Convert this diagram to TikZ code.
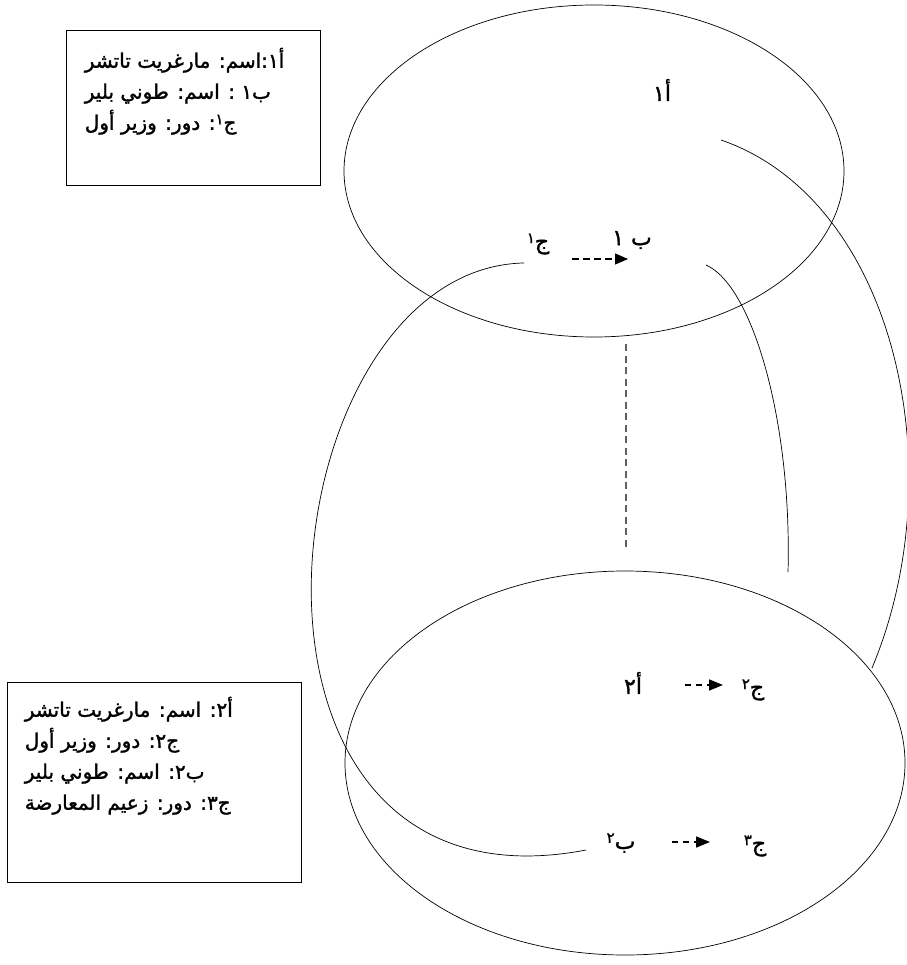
\documentclass[tikz,border=0pt]{standalone}
\usepackage{fontspec}
\newfontfamily\arabicfont[Script=Arabic,FakeBold=1.5]{DejaVu Sans}
\TeXXeTstate=1
\usetikzlibrary{arrows.meta}
% raised index digit after a letter
\newcommand{\sdig}[1]{\raisebox{0.5ex}{\fontsize{15}{15}\selectfont #1}}

\begin{document}
\begin{tikzpicture}[x=1pt,y=-1pt]

\tikzstyle{box} = [draw, shape=rectangle, line width=0.8pt, inner sep=0pt]
\tikzstyle{lines} = [font=\arabicfont\fontsize{20}{31}\selectfont, align=left, anchor=north west, inner sep=0pt]
\tikzstyle{lbl} = [font=\arabicfont\fontsize{22}{24}\selectfont, inner sep=1pt]
\tikzstyle{curve} = [line width=0.7pt]
\tikzstyle{darr} = [dash pattern=on 6pt off 5pt, line width=1.6pt, -{Triangle[length=14pt,width=11pt]}]

\useasboundingbox (0,0) rectangle (906,965);

% the two sets
\draw[curve] (594,171) ellipse [x radius=250, y radius=166];
\draw[curve] (625,763) ellipse [x radius=280, y radius=192];

% elements
\node[lbl] (a1) at (662,90) {\beginR أ١\endR};
\node[lbl] (c1) at (538,244) {\beginR ج\sdig{١}\endR};
\node[lbl] (b1) at (632,240) {\beginR ب ١\endR};
\node[lbl] (a2) at (633,683) {\beginR أ٢\endR};
\node[lbl] (c2) at (753,690) {\beginR ج\sdig{٢}\endR};
\node[lbl] (b2) at (621,843) {\beginR ب\sdig{٢}\endR};
\node[lbl] (c3) at (755,846) {\beginR ج\sdig{٣}\endR};

% descriptions
\node[box, minimum width=254, minimum height=155] (tbox) at (193,107.5) {};
\node[lines] (tdesc) at ([xshift=19pt,yshift=-18pt]tbox.north west)
  {\beginR أ١:اسم:  مارغريت تاتشر\endR\\
   \beginR ب١ : اسم: طوني بلير\endR\\
   \beginR ج\sdig{١}: دور: وزير أول\endR};

\node[box, minimum width=294, minimum height=200] (bbox) at (154,782) {};
\node[lines] (bdesc) at ([xshift=18pt,yshift=-15pt]bbox.north west)
  {\beginR أ٢: اسم: مارغريت تاتشر\endR\\
   \beginR ج٢: دور: وزير أول\endR\\
   \beginR ب٢: اسم: طوني بلير\endR\\
   \beginR ج٣: دور: زعيم المعارضة\endR};

% free ends of the links
\coordinate (a1e) at (721,140);
\coordinate (a2e) at (872,668);
\coordinate (b1e) at (706,265);
\coordinate (c2e) at (788,572);
\coordinate (c1e) at (524,263);
\coordinate (b2e) at (586,850);
\coordinate (up) at (626,344);
\coordinate (dn) at (626,550);

% links between the sets
\draw[curve] (a1e) .. controls (895,200) and (955,470) .. (a2e);
\draw[curve] (b1e) .. controls (752,285) and (792,420) .. (c2e);
\draw[curve] (c1e) .. controls (265,268) and (195,925) .. (b2e);
\draw[dash pattern=on 7pt off 4.5pt, line width=1.8pt, gray!75!black] (up) -- (dn);

% mappings inside the sets
\draw[darr, dash pattern=on 7pt off 4pt, line width=1.3pt, -{Triangle[length=13pt,width=11pt]}]
  ([shift={(34,15)}]c1.center) -- ([shift={(-4,19)}]b1.center);
\draw[darr] ([shift={(52,2)}]a2.center) -- ([shift={(-30,-5)}]c2.center);
\draw[darr] ([shift={(51,-1)}]b2.center) -- ([shift={(-45,-4)}]c3.center);

\end{tikzpicture}
\end{document}
